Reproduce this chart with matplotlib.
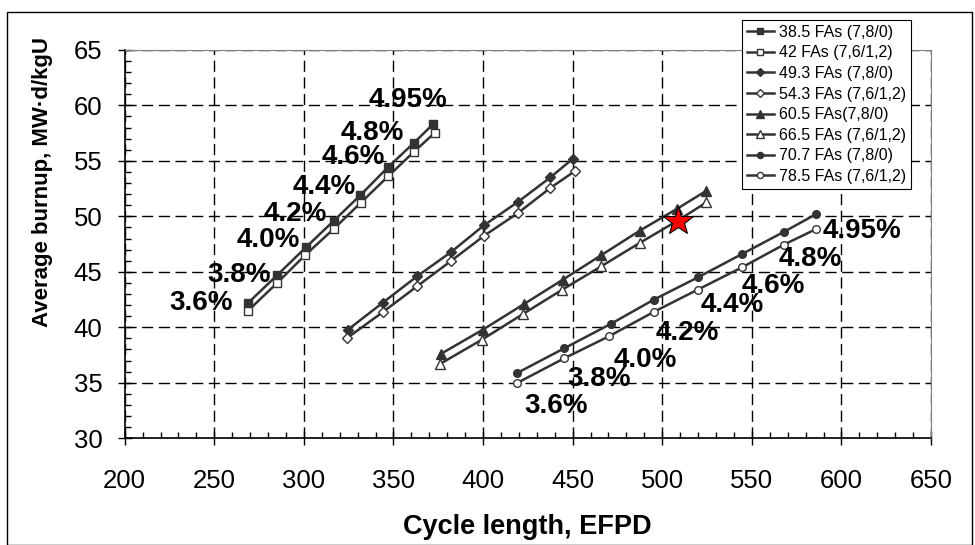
import numpy as np
import matplotlib
matplotlib.use('Agg')
import matplotlib.pyplot as plt
from matplotlib.patches import Rectangle
from matplotlib.ticker import MultipleLocator

plt.rcParams['font.family'] = ['Liberation Sans', 'DejaVu Sans']

# enrichment of each point along a curve
enrich = ['3.6%', '3.8%', '4.0%', '4.2%', '4.4%', '4.6%', '4.8%', '4.95%']

names = ['38.5 FAs (7,8/0)', '42 FAs (7,6/1,2)', '49.3 FAs (7,8/0)', '54.3 FAs (7,6/1,2)',
         '60.5 FAs(7,8/0)', '66.5 FAs (7,6/1,2)', '70.7 FAs (7,8/0)', '78.5 FAs (7,6/1,2)']

x_385 = [268.9, 285.1, 301.1, 316.7, 331.5, 346.8, 361.3, 372.1]
y_385 = [42.2, 44.7, 47.2, 49.6, 51.9, 54.4, 56.6, 58.3]
x_42 = [268.9, 285.1, 300.7, 316.9, 331.6, 347.0, 361.3, 372.9]
y_42 = [41.5, 44.0, 46.5, 48.9, 51.2, 53.6, 55.8, 57.5]
x_493 = [324.7, 343.9, 363.2, 382.3, 400.6, 419.5, 437.5, 450.2]
y_493 = [39.8, 42.2, 44.6, 46.8, 49.2, 51.3, 53.5, 55.2]
x_543 = [323.8, 343.9, 363.2, 382.3, 400.6, 419.5, 437.5, 451.5]
y_543 = [39.0, 41.35, 43.7, 46.0, 48.25, 50.3, 52.55, 54.1]
x_605 = [376.4, 400.0, 422.9, 444.6, 466.0, 487.4, 508.5, 524.6]
y_605 = [37.6, 39.8, 42.1, 44.3, 46.5, 48.7, 50.7, 52.3]
x_665 = [376.0, 399.5, 422.3, 444.3, 466.0, 487.4, 508.5, 524.6]
y_665 = [36.7, 38.9, 41.2, 43.4, 45.5, 47.6, 49.6, 51.25]
x_707 = [419.2, 445.2, 471.2, 495.4, 519.9, 544.5, 567.9, 585.9]
y_707 = [35.9, 38.1, 40.3, 42.5, 44.5, 46.6, 48.6, 50.2]
x_785 = [419.2, 445.2, 470.4, 495.4, 519.9, 544.5, 567.9, 585.9]
y_785 = [35.0, 37.2, 39.2, 41.4, 43.4, 45.4, 47.45, 48.85]

star_x, star_y = 508.8, 49.6

series = [(x_385, y_385), (x_42, y_42), (x_493, y_493), (x_543, y_543),
          (x_605, y_605), (x_665, y_665), (x_707, y_707), (x_785, y_785)]
markers = ['s', 's', 'D', 'D', '^', '^', 'o', 'o']
msizes = [6, 6, 5, 5, 7, 7, 5.5, 5.5]
dark = '#333333'

fig = plt.figure(figsize=(9.75, 5.45), dpi=100)
ax = fig.add_axes([0.1279, 0.1958, 0.827, 0.7128])

for i, (xs, ys) in enumerate(series):
    face = dark if i % 2 == 0 else 'white'
    ax.plot(xs, ys, color=dark, lw=1.8, marker=markers[i], ms=msizes[i],
            mfc=face, mec=dark, mew=1.0, label=names[i], zorder=3)

ax.plot([star_x], [star_y], marker='*', ms=22, mfc='red', mec='black',
        mew=0.8, ls='none', zorder=5)

# enrichment labels: left group next to the 38.5 FAs curve, right group under 78.5 FAs
left_off = [(-15, 0), (-6, 0), (-6, 7), (-7, 7), (-4, 8), (-3, 10), (-10, 10), (14, 24)]
for lab, xv, yv, off in zip(enrich, x_385, y_385, left_off):
    ax.annotate(lab, (xv, yv), xytext=off, textcoords='offset pixels',
                ha='right', va='center', fontsize=20, fontweight='bold', zorder=4)
right_off = [(7, -23), (3, -21), (4, -24), (2, -21), (3, -15), (0, -19), (-5, -14), (6, -2)]
for lab, xv, yv, off in zip(enrich, x_785, y_785, right_off):
    ax.annotate(lab, (xv, yv), xytext=off, textcoords='offset pixels',
                ha='left', va='center', fontsize=20, fontweight='bold', zorder=4)

ax.set_xlim(200, 650)
ax.set_ylim(30, 65)
ax.xaxis.set_major_locator(MultipleLocator(50))
ax.xaxis.set_minor_locator(MultipleLocator(10))
ax.yaxis.set_major_locator(MultipleLocator(5))
ax.yaxis.set_minor_locator(MultipleLocator(1))
ax.tick_params(which='major', direction='inout', length=10, width=1, labelsize=18.5)
ax.tick_params(axis='x', which='major', pad=17)
ax.tick_params(axis='y', which='major', pad=11)
ax.tick_params(which='minor', direction='in', length=4, width=1)
ax.grid(True, which='major', color='black', lw=1, linestyle=(0, (8, 4)))

for s in ['top', 'right']:
    ax.spines[s].set_color('#808080')
for s in ['left', 'bottom']:
    ax.spines[s].set_linewidth(1.2)

fig.text(527 / 975, 1 - 527 / 545, 'Cycle length, EFPD', ha='center', va='center',
         fontsize=19.5, fontweight='bold')
fig.text(43 / 975, 1 - 182 / 545, 'Average burnup, MW\u00b7d/kgU', ha='center', va='center',
         rotation=90, fontsize=16, fontweight='bold')

leg = ax.legend(loc='upper right', bbox_to_anchor=(910.7 / 975, 1 - 20 / 545),
                bbox_transform=fig.transFigure, borderaxespad=0, fancybox=False,
                framealpha=1, edgecolor='black', fontsize=11.5, handlelength=1.7,
                handletextpad=0.3, labelspacing=0.35, borderpad=0.3, markerscale=0.8)
leg.get_frame().set_linewidth(0.8)
leg.set_zorder(10)

fig.patches.append(Rectangle((7 / 975, 0), 965 / 975, 1 - 12 / 545, fill=False,
                             edgecolor='black', lw=1, transform=fig.transFigure))

fig.savefig('out.png', dpi=100)
